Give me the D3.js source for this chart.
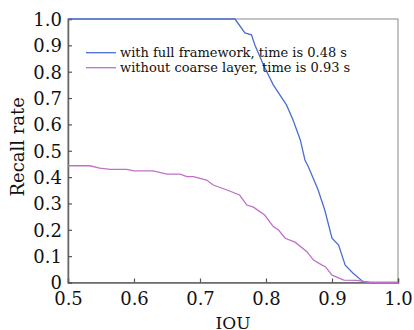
<!DOCTYPE html>
<html><head><meta charset="utf-8">
<script src="https://cdn.jsdelivr.net/npm/d3@7"></script>
<style>body{margin:0;background:#fff}svg{display:block}</style>
</head><body>
<script>
const fullIou    = [0.5, 0.753, 0.768, 0.778, 0.783, 0.796, 0.811, 0.831, 0.841, 0.852, 0.859, 0.864, 0.879, 0.889, 0.9, 0.91, 0.92, 0.932, 0.947, 0.958, 1.0];
const fullRecall = [1.0, 1.0, 0.947, 0.94, 0.902, 0.826, 0.75, 0.674, 0.617, 0.541, 0.465, 0.44, 0.351, 0.275, 0.168, 0.142, 0.066, 0.035, 0.003, 0, 0];
const coarseIou    = [0.5, 0.533, 0.548, 0.564, 0.589, 0.6, 0.629, 0.65, 0.67, 0.68, 0.69, 0.71, 0.72, 0.741, 0.76, 0.771, 0.781, 0.798, 0.811, 0.819, 0.829, 0.844, 0.862, 0.872, 0.885, 0.89, 0.9, 0.918, 0.938, 0.958, 1.0];
const coarseRecall = [0.443, 0.443, 0.434, 0.429, 0.429, 0.424, 0.424, 0.411, 0.411, 0.402, 0.402, 0.389, 0.37, 0.351, 0.332, 0.294, 0.286, 0.256, 0.212, 0.199, 0.168, 0.153, 0.117, 0.085, 0.066, 0.06, 0.028, 0.009, 0.008, 0, 0];
const xTicks = [0.5, 0.6, 0.7, 0.8, 0.9, 1.0];
const yTicks = [0, 0.1, 0.2, 0.3, 0.4, 0.5, 0.6, 0.7, 0.8, 0.9, 1.0];
const seriesNames = ["with full framework, time is 0.48 s", "without coarse layer, time is 0.93 s"];
const seriesColors = ["#4a6fd2", "#c070c8"];

const W = 414, H = 330;
const m = {l: 68, r: 16, t: 19, b: 47.5};
const svg = d3.select("body").append("svg").attr("width", W).attr("height", H);
const font = "'DejaVu Serif', serif";
const x = d3.scaleLinear().domain([0.5, 1.0]).range([m.l, W - m.r]);
const y = d3.scaleLinear().domain([0, 1]).range([H - m.b, m.t]);

// frame
svg.append("rect").attr("x", m.l).attr("y", m.t).attr("width", x(1) - x(0.5)).attr("height", y(0) - y(1))
  .attr("fill", "none").attr("stroke", "#888").attr("stroke-width", 1);

const fmt = d => d === 0 ? "0" : d3.format(".1f")(d);
const xAxis = svg.append("g").attr("transform", `translate(0,${y(0)})`)
  .call(d3.axisBottom(x).tickValues(xTicks).tickSize(-4).tickPadding(10).tickFormat(fmt));
const yAxis = svg.append("g").attr("transform", `translate(${m.l},0)`)
  .call(d3.axisLeft(y).tickValues(yTicks).tickSize(-4).tickPadding(6).tickFormat(fmt));
[xAxis, yAxis].forEach(a => {
  a.select(".domain").attr("stroke", "#666").attr("stroke-width", 1.5);
  a.selectAll(".tick line").attr("stroke", "#555").attr("stroke-width", 1.2);
  a.selectAll("text").attr("fill", "#111").style("font-family", font).style("font-size", "18px");
});
xAxis.selectAll(".tick text").attr("dy", "0.68em");
yAxis.selectAll(".tick text").attr("dy", "0.36em");

const line = d3.line().x(d => x(d[0])).y(d => y(d[1]));
const fullData = fullIou.map((v, i) => [v, fullRecall[i]]);
const coarseData = coarseIou.map((v, i) => [v, coarseRecall[i]]);
svg.append("path").datum(fullData).attr("d", line).attr("fill", "none").attr("stroke", seriesColors[0]).attr("stroke-width", 1.3);
svg.append("path").datum(coarseData).attr("d", line).attr("fill", "none").attr("stroke", seriesColors[1]).attr("stroke-width", 1.3);

// legend
seriesNames.forEach((n, i) => {
  const ly = 52.7 + i * 15;
  svg.append("line").attr("x1", 86).attr("x2", 116).attr("y1", ly).attr("y2", ly)
    .attr("stroke", seriesColors[i]).attr("stroke-width", 1.3);
  svg.append("text").attr("x", 120).attr("y", ly).attr("dy", "0.35em").text(n)
    .style("font-family", font).style("font-size", "13px").attr("fill", "#111");
});

// axis labels
svg.append("text").attr("x", (x(0.5) + x(1)) / 2).attr("y", 329).attr("text-anchor", "middle")
  .text("IOU").style("font-family", font).style("font-size", "17px").attr("fill", "#111");
svg.append("text").attr("transform", `translate(24,${(y(0) + y(1)) / 2 - 4}) rotate(-90)`)
  .attr("text-anchor", "middle").text("Recall rate").style("font-family", font).style("font-size", "18px").attr("fill", "#111");
</script>
</body></html>
